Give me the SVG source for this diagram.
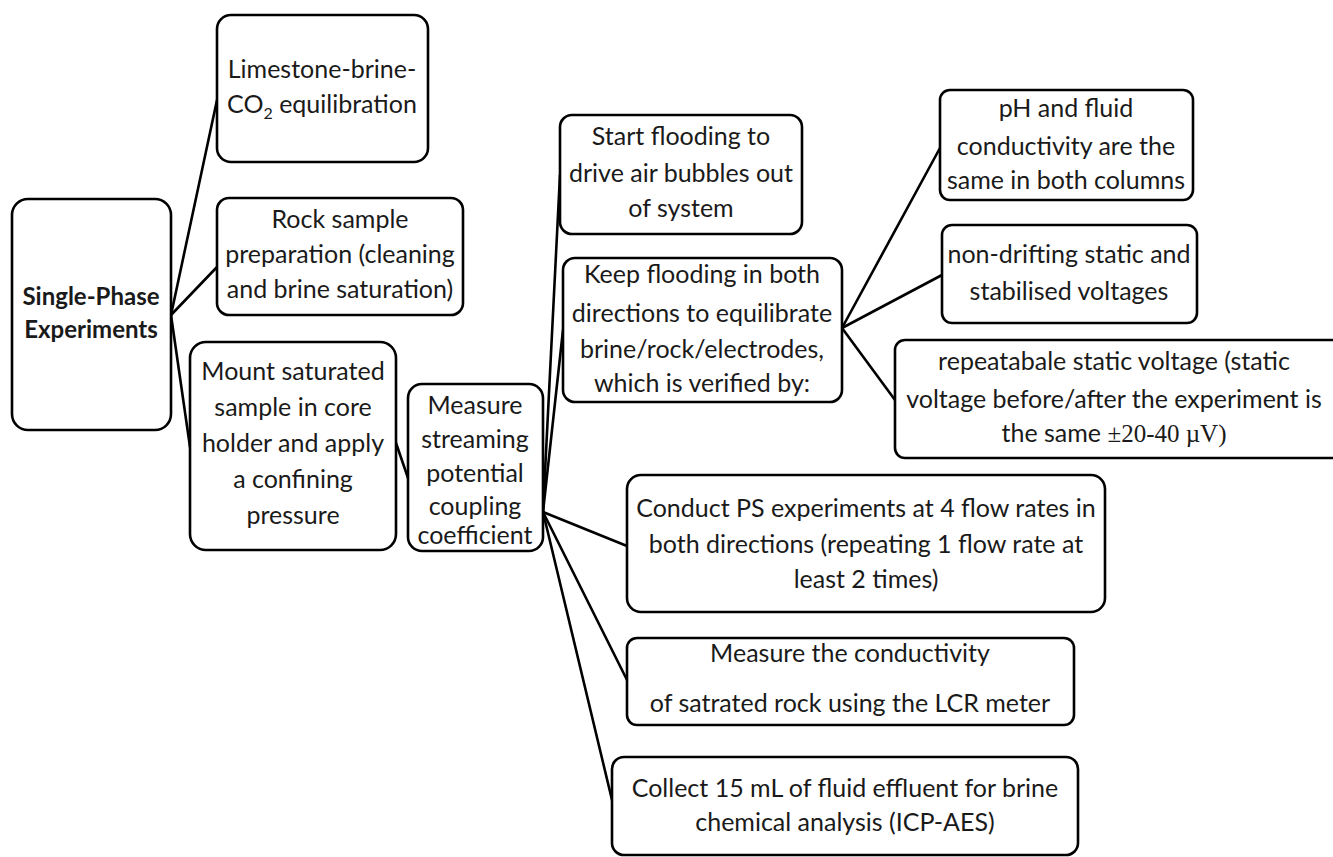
<svg xmlns="http://www.w3.org/2000/svg" width="1333" height="857" viewBox="0 0 1333 857">
  <style>
    .box { fill: #ffffff; stroke: #000000; stroke-width: 2.6; }
    .lbl { font-family: Lato, "Open Sans", sans-serif; font-size: 25px; fill: #1a1a1a; text-anchor: middle; }
    .bold { font-weight: bold; font-size: 24px; }
    .serif { font-family: "Liberation Serif", serif; }
    .conn line { stroke: #000000; stroke-width: 2.6; stroke-linecap: round; }
  </style>
  <rect width="1333" height="857" fill="#ffffff"/>

  <!-- connectors -->
  <g class="conn" id="connectors">
    <line x1="171" y1="315" x2="217" y2="100"/>
    <line x1="171" y1="315" x2="217" y2="267"/>
    <line x1="171" y1="315" x2="190" y2="447"/>
    <line x1="396" y1="443" x2="408" y2="478"/>
    <line x1="543" y1="512" x2="560" y2="175"/>
    <line x1="543" y1="512" x2="563" y2="330"/>
    <line x1="543" y1="512" x2="627" y2="546"/>
    <line x1="543" y1="512" x2="627" y2="680"/>
    <line x1="543" y1="512" x2="612" y2="800"/>
    <line x1="842" y1="328" x2="940" y2="148"/>
    <line x1="842" y1="328" x2="942" y2="275"/>
    <line x1="842" y1="328" x2="895" y2="400"/>
  </g>

  <g id="single-phase">
    <rect class="box" x="12" y="199" width="159" height="231" rx="16"/>
    <text class="lbl bold" x="91" y="305">Single-Phase</text>
    <text class="lbl bold" x="91" y="338">Experiments</text>
  </g>

  <g id="limestone">
    <rect class="box" x="217" y="15" width="211" height="147" rx="14"/>
    <text class="lbl" x="322" y="78">Limestone-brine-</text>
    <text class="lbl" x="322" y="113">CO<tspan font-size="16" dy="6">2</tspan><tspan dy="-6"> equilibration</tspan></text>
  </g>

  <g id="rock-prep">
    <rect class="box" x="217" y="198" width="246" height="117" rx="12"/>
    <text class="lbl" x="340" y="228">Rock sample</text>
    <text class="lbl" x="340" y="263">preparation (cleaning</text>
    <text class="lbl" x="340" y="298">and brine saturation)</text>
  </g>

  <g id="mount">
    <rect class="box" x="190" y="342" width="206" height="208" rx="16"/>
    <text class="lbl" x="293" y="380">Mount saturated</text>
    <text class="lbl" x="293" y="416">sample in core</text>
    <text class="lbl" x="293" y="452">holder and apply</text>
    <text class="lbl" x="293" y="488">a confining</text>
    <text class="lbl" x="293" y="524">pressure</text>
  </g>

  <g id="measure-coupling">
    <rect class="box" x="408" y="384" width="135" height="167" rx="14"/>
    <text class="lbl" x="475" y="414">Measure</text>
    <text class="lbl" x="475" y="448">streaming</text>
    <text class="lbl" x="475" y="482">potential</text>
    <text class="lbl" x="475" y="515">coupling</text>
    <text class="lbl" x="475" y="544">coefficient</text>
  </g>

  <g id="start-flooding">
    <rect class="box" x="560" y="115" width="242" height="119" rx="12"/>
    <text class="lbl" x="681" y="145">Start flooding to</text>
    <text class="lbl" x="681" y="182">drive air bubbles out</text>
    <text class="lbl" x="681" y="217">of system</text>
  </g>

  <g id="keep-flooding">
    <rect class="box" x="563" y="258" width="279" height="144" rx="12"/>
    <text class="lbl" x="702" y="283">Keep flooding in both</text>
    <text class="lbl" x="702" y="322">directions to equilibrate</text>
    <text class="lbl" x="702" y="358">brine/rock/electrodes,</text>
    <text class="lbl" x="702" y="392">which is verified by:</text>
  </g>

  <g id="ph-check">
    <rect class="box" x="940" y="90" width="253" height="110" rx="10"/>
    <text class="lbl" x="1066" y="117">pH and fluid</text>
    <text class="lbl" x="1066" y="155">conductivity are the</text>
    <text class="lbl" x="1066" y="189">same in both columns</text>
  </g>

  <g id="voltage-check">
    <rect class="box" x="942" y="225" width="255" height="98" rx="10"/>
    <text class="lbl" x="1069" y="263">non-drifting static and</text>
    <text class="lbl" x="1069" y="300">stabilised voltages</text>
  </g>

  <g id="repeat-check">
    <rect class="box" x="895" y="340" width="450" height="118" rx="10"/>
    <text class="lbl" x="1114" y="370">repeatabale static voltage (static</text>
    <text class="lbl" x="1114" y="408">voltage before/after the experiment is</text>
    <text class="lbl" x="1114" y="442">the same <tspan class="serif">±20-40 µV)</tspan></text>
  </g>

  <g id="ps-runs">
    <rect class="box" x="627" y="475" width="478" height="137" rx="14"/>
    <text class="lbl" x="866" y="517">Conduct PS experiments at 4 flow rates in</text>
    <text class="lbl" x="866" y="553">both directions (repeating 1 flow rate at</text>
    <text class="lbl" x="866" y="588">least 2 times)</text>
  </g>

  <g id="lcr-meter">
    <rect class="box" x="627" y="638" width="447" height="87" rx="10"/>
    <text class="lbl" x="850" y="662">Measure the conductivity</text>
    <text class="lbl" x="850" y="712">of satrated rock using the LCR meter</text>
  </g>

  <g id="effluent">
    <rect class="box" x="612" y="757" width="466" height="98" rx="12"/>
    <text class="lbl" x="845" y="797">Collect 15 mL of fluid effluent for brine</text>
    <text class="lbl" x="845" y="831">chemical analysis (ICP-AES)</text>
  </g>
</svg>
